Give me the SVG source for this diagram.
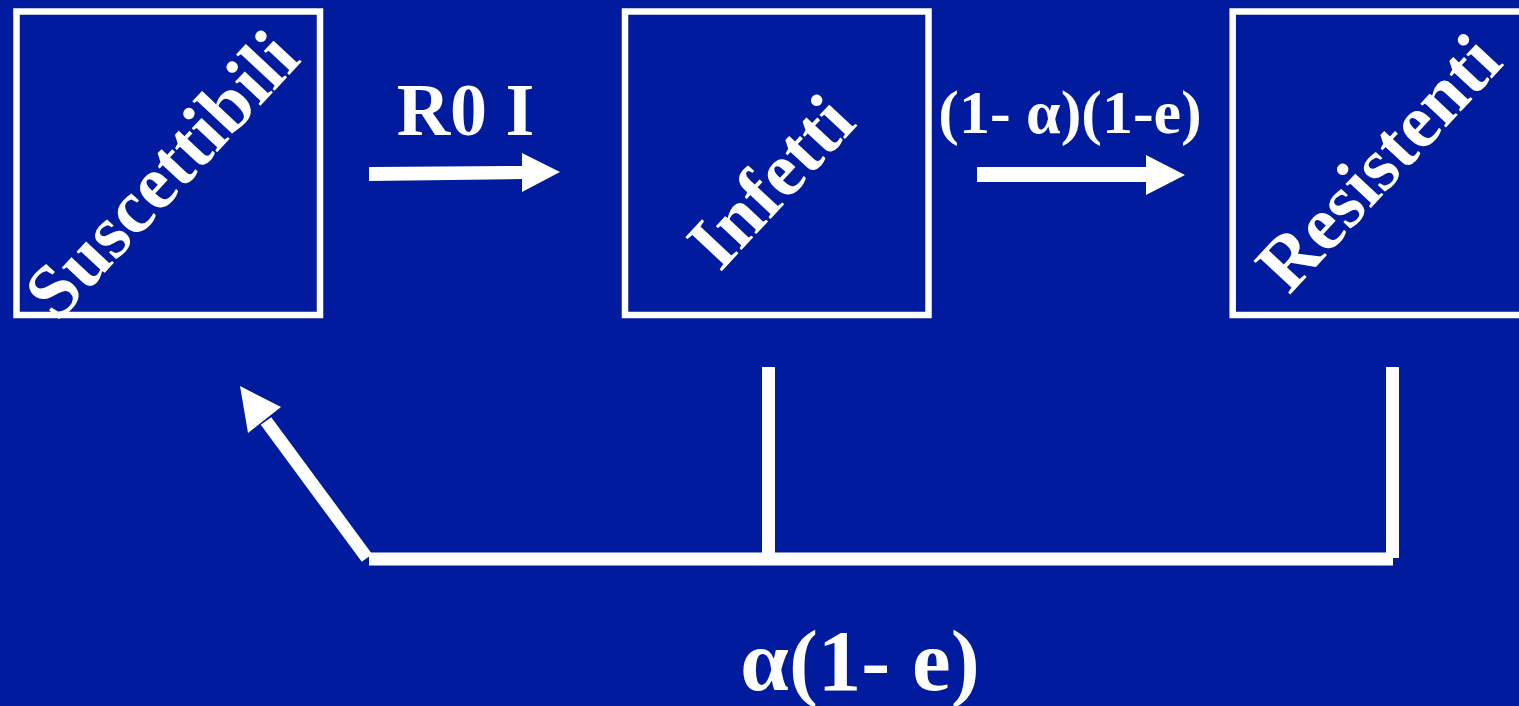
<svg xmlns="http://www.w3.org/2000/svg" width="1519" height="706" viewBox="0 0 1519 706">
<style>
.box{fill:none;stroke:#ffffff;stroke-width:6.5}
.lbl{font-family:"Liberation Serif","Times New Roman",serif;font-weight:bold;fill:#ffffff}
.node{font-size:76px;text-anchor:middle}
.line{stroke:#ffffff;stroke-width:13;fill:none}
.head{fill:#ffffff}
</style>
<rect x="0" y="0" width="1519" height="706" fill="#001b9e"/>
<g id="node-suscettibili">
<rect class="box" x="16.5" y="11.5" width="303.5" height="303.5"/>
<text class="lbl node" transform="translate(180,192) rotate(-47)">Suscettibili</text>
</g>
<g id="node-infetti">
<rect class="box" x="625" y="11.5" width="303.5" height="303.5"/>
<text class="lbl node" transform="translate(789,199) rotate(-47)">Infetti</text>
</g>
<g id="node-resistenti">
<rect class="box" x="1232.7" y="11.5" width="310" height="303.5"/>
<text class="lbl node" transform="translate(1397,180) rotate(-47)">Resistenti</text>
</g>
<g id="connectors">
<polygon class="head" points="369,167 522,166 522,153 560,172 522,192 522,179 369,181"/>
<polygon class="head" points="977,167 1146,167 1146,155 1185,175 1146,195 1146,182 977,182"/>
<line class="line" x1="768.5" y1="367" x2="768.5" y2="553"/>
<line class="line" x1="1392.5" y1="367" x2="1392.5" y2="558"/>
<line class="line" x1="369" y1="559" x2="1393" y2="559"/>
<line class="line" x1="367" y1="558" x2="266" y2="421"/>
<polygon class="head" points="240,386 281,407 248,433"/>
</g>
<g id="labels">
<text class="lbl" x="465.5" y="135" font-size="74" text-anchor="middle">R0 I</text>
<text class="lbl" x="1070" y="133" font-size="62" text-anchor="middle">(1- α)(1-e)</text>
<text class="lbl" x="860" y="690" font-size="87" text-anchor="middle">α(1- e)</text>
</g>
</svg>
